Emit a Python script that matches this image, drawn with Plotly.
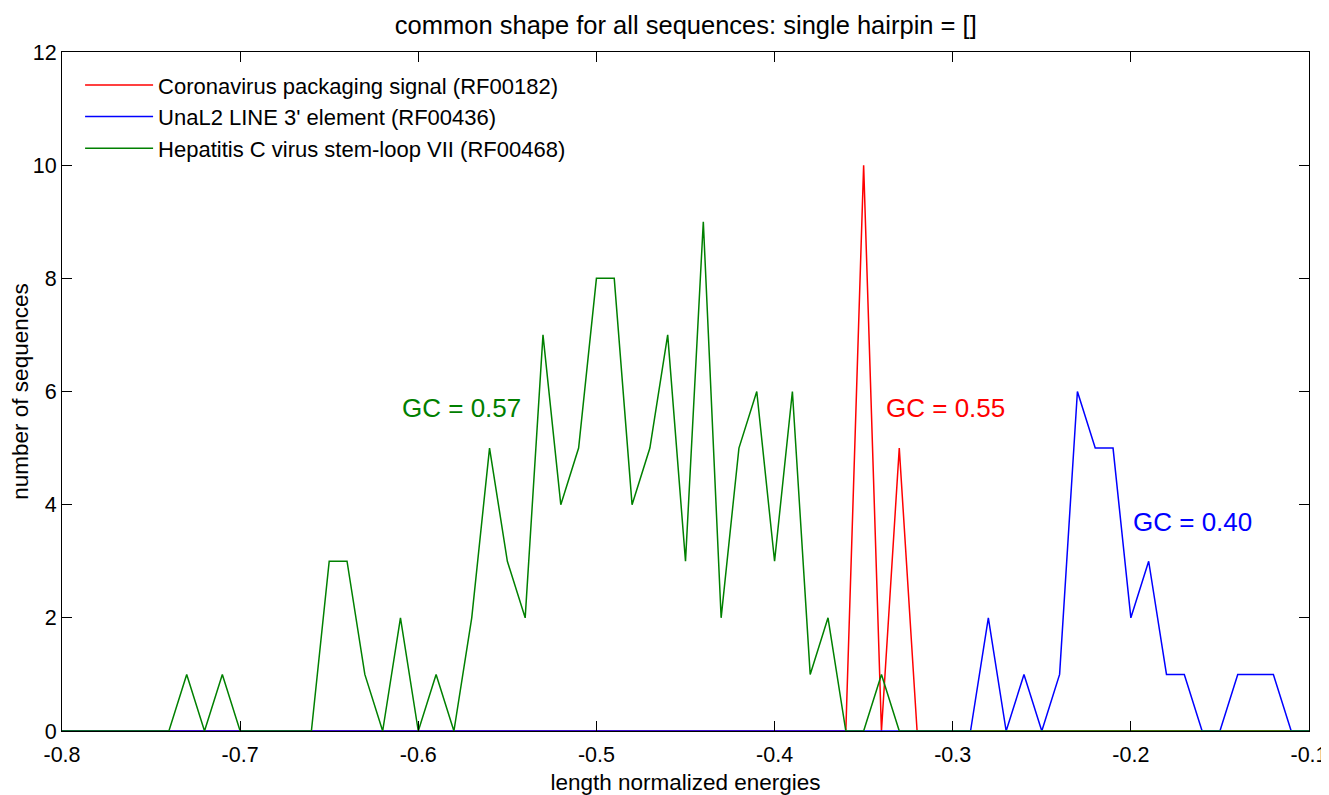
import plotly.graph_objects as go

# bins of length-normalized energy
x_bins = [round(-0.80 + 0.01 * i, 2) for i in range(71)]

red_nonzero = {-0.35: 10, -0.33: 5}
blue_nonzero = {-0.28: 2, -0.26: 1, -0.24: 1, -0.23: 6, -0.22: 5, -0.21: 5,
                -0.20: 2, -0.19: 3, -0.18: 1, -0.17: 1, -0.14: 1, -0.13: 1, -0.12: 1}
green_nonzero = {-0.73: 1, -0.71: 1, -0.65: 3, -0.64: 3, -0.63: 1, -0.61: 2,
                 -0.59: 1, -0.57: 2, -0.56: 5, -0.55: 3, -0.54: 2, -0.53: 7,
                 -0.52: 4, -0.51: 5, -0.50: 8, -0.49: 8, -0.48: 4, -0.47: 5,
                 -0.46: 7, -0.45: 3, -0.44: 9, -0.43: 2, -0.42: 5, -0.41: 6,
                 -0.40: 3, -0.39: 6, -0.38: 1, -0.37: 2, -0.34: 1}

red_counts = [red_nonzero.get(x, 0) for x in x_bins]
blue_counts = [blue_nonzero.get(x, 0) for x in x_bins]
green_counts = [green_nonzero.get(x, 0) for x in x_bins]

series_names = ["Coronavirus packaging signal (RF00182)",
                "UnaL2 LINE 3' element (RF00436)",
                "Hepatitis C virus stem-loop VII (RF00468)"]
series_colors = ["#ff0000", "#0000ff", "#008000"]

x_tickvals = [-0.8, -0.7, -0.6, -0.5, -0.4, -0.3, -0.2, -0.1]
x_ticktext = ["-0.8", "-0.7", "-0.6", "-0.5", "-0.4", "-0.3", "-0.2", "-0.1"]
y_tickvals = [0, 2, 4, 6, 8, 10, 12]

gc_labels = [("GC = 0.57", -0.61, 5.7, "#008000"),
             ("GC = 0.55", -0.3385, 5.7, "#ff0000"),
             ("GC = 0.40", -0.20, 3.7, "#0000ff")]

font = "Liberation Sans, Arial, Helvetica, sans-serif"

fig = go.Figure()
for name, ys, col in zip(series_names, [red_counts, blue_counts, green_counts], series_colors):
    fig.add_trace(go.Scatter(x=x_bins, y=ys, mode="lines", name=name,
                             line=dict(color=col, width=1.5)))

for text, x, y, col in gc_labels:
    fig.add_annotation(x=x, y=y, text=text, showarrow=False, xanchor="left",
                       yanchor="middle", font=dict(color=col, size=26, family=font))

fig.update_layout(
    width=1329, height=795,
    margin=dict(l=54, r=28, t=44, b=72),
    paper_bgcolor="white", plot_bgcolor="white",
    font=dict(family=font, size=22, color="black"),
    title=dict(text="common shape for all sequences: single hairpin = []",
               x=0.510, xanchor="center", y=0.979, yanchor="middle",
               font=dict(size=25.5, family=font)),
    legend=dict(x=0.0145, y=0.982, xanchor="left", yanchor="top",
                bgcolor="rgba(0,0,0,0)", font=dict(size=22, family=font),
                tracegroupgap=0, itemwidth=68),
    showlegend=True,
)
fig.update_xaxes(range=[-0.8, -0.1], tickvals=x_tickvals, ticktext=x_ticktext,
                 ticks="inside", ticklen=10, tickcolor="black", mirror="ticks",
                 showline=True, linecolor="black", linewidth=1, showgrid=False,
                 zeroline=False, tickfont=dict(size=21.5), automargin=False,
                 ticklabelstandoff=4,
                 title=dict(text="length normalized energies", font=dict(size=22.5), standoff=8))
fig.update_yaxes(range=[0, 12], tickvals=y_tickvals,
                 ticks="inside", ticklen=10, tickcolor="black", mirror="ticks",
                 showline=True, linecolor="black", linewidth=1, showgrid=False,
                 zeroline=False, tickfont=dict(size=21.5), automargin=False,
                 title=dict(text="number of sequences", font=dict(size=22.5), standoff=6))

fig.write_html("out.html")
